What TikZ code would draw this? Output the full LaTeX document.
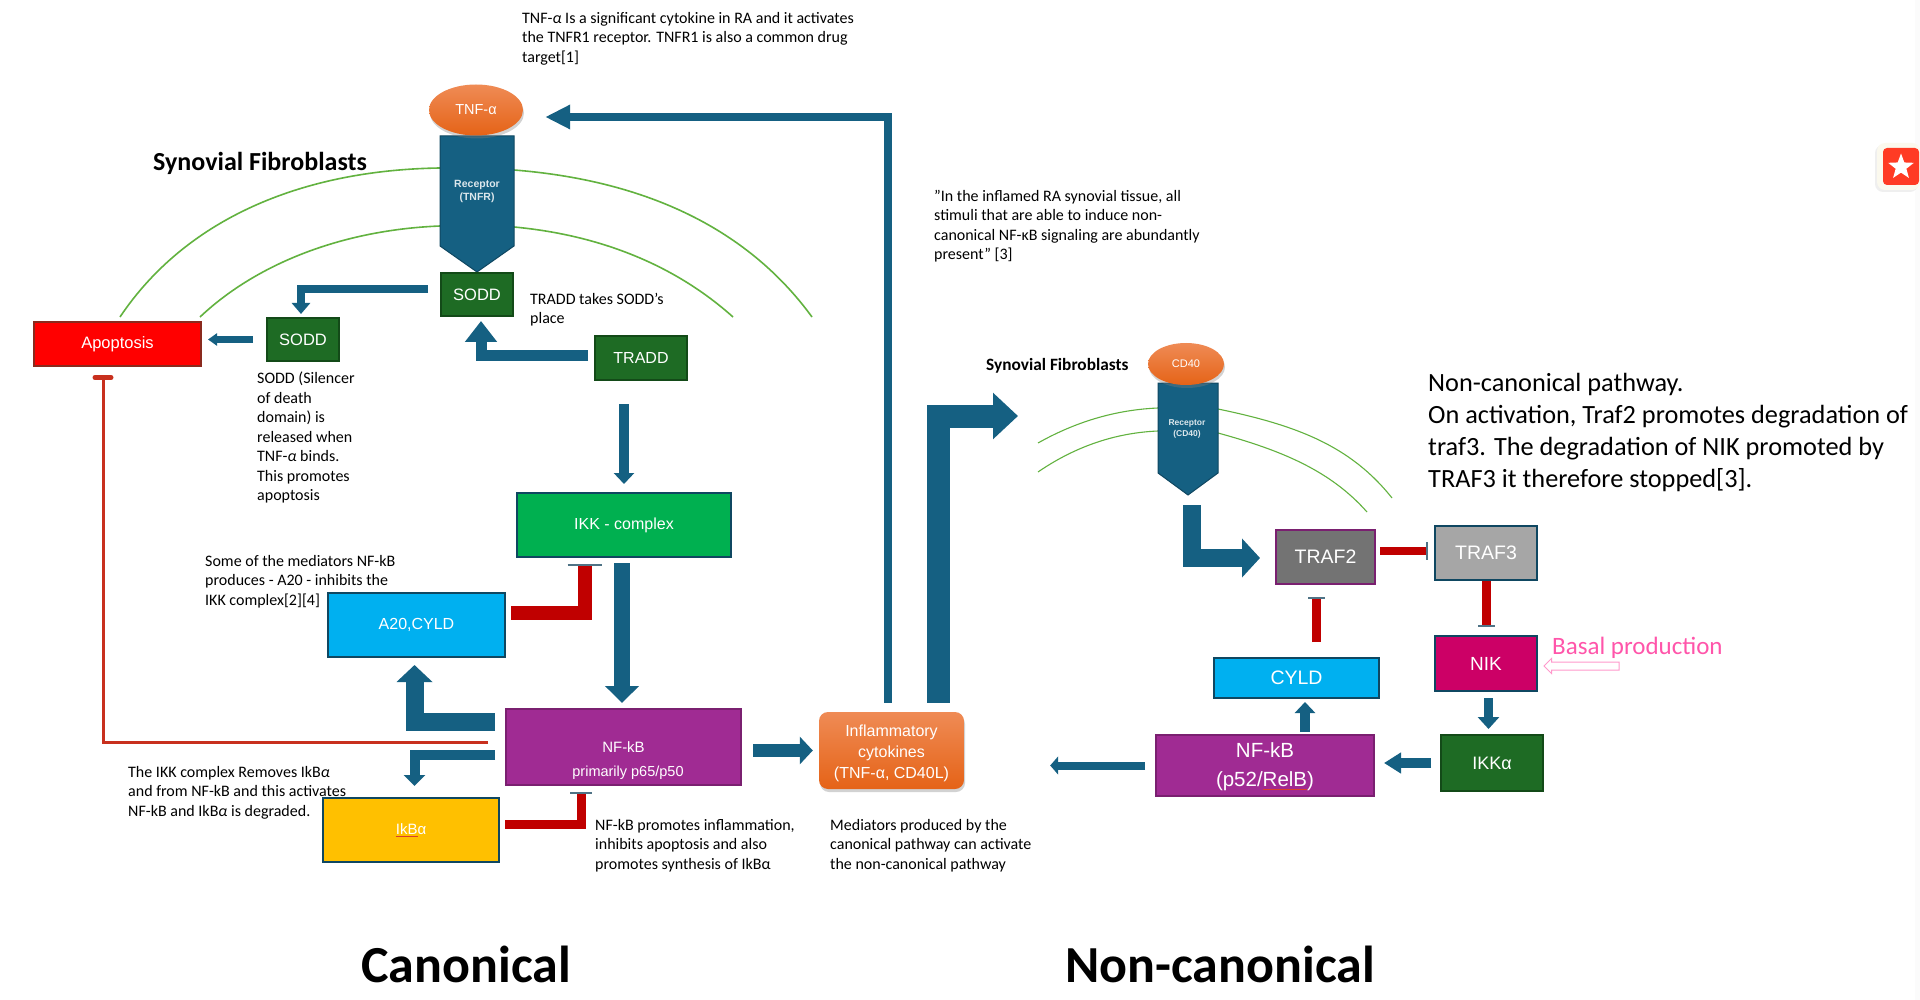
\documentclass[tikz,border=0pt]{standalone}
\usepackage{fontspec}
\setmainfont{Carlito}
\newfontfamily\boxfont{Liberation Sans}
\usetikzlibrary{calc,arrows.meta,shapes.geometric,shapes.arrows,shadows}
\definecolor{flowblue}{HTML}{156082}
\definecolor{flowedge}{HTML}{0F4761}
\definecolor{inhred}{HTML}{C00000}
\definecolor{barslate}{HTML}{4F7386}
\definecolor{stopred}{HTML}{C8301E}
\definecolor{membrane}{HTML}{62B23F}
\definecolor{orangetop}{HTML}{EF8B55}
\definecolor{orangelow}{HTML}{E56317}
\definecolor{darkgreen}{HTML}{1E6B24}
\definecolor{darkgreenedge}{HTML}{134A18}
\definecolor{brightgreen}{HTML}{00B050}
\definecolor{skyblue}{HTML}{00B0F0}
\definecolor{violet}{HTML}{A02B93}
\definecolor{violetedge}{HTML}{7A2070}
\definecolor{amber}{HTML}{FFC000}
\definecolor{alarm}{HTML}{FF0000}
\definecolor{alarmedge}{HTML}{8A2A1E}
\definecolor{midgrey}{HTML}{737373}
\definecolor{lightgrey}{HTML}{A6A6A6}
\definecolor{magenta}{HTML}{CC0066}
\definecolor{pinkline}{HTML}{FF99CC}
\definecolor{pinktext}{HTML}{FF55AA}
\definecolor{badge}{HTML}{FF3B24}
\definecolor{badgeback}{HTML}{FBF9EE}
\definecolor{squig}{HTML}{D9402A}
\definecolor{strip}{HTML}{FBFBFB}
\newcommand{\Note}{\fontsize{16}{19.5}\selectfont}
\newcommand{\Squig}[1]{\leavevmode\sbox0{#1}\rlap{\usebox0}\textcolor{squig}{\rule[-2.5pt]{\wd0}{0.8pt}}}
\tikzset{
  box/.style={anchor=north west, inner sep=0pt, line width=1.6pt, text=white, align=center},
  note/.style={anchor=north west, inner sep=0pt, align=left, text=black, font=\Note},
  label/.style={anchor=center, inner sep=0pt, align=center, text=white},
  flow/.style n args={3}{draw=flowblue, line width=#1pt, -{Triangle[length=#2pt,width=#3pt]}},
  inhibit/.style n args={2}{draw=inhred, line width=#1pt, -{Bar[width=#2pt,line width=2pt,color=barslate]}},
  arc/.style={draw=membrane, line width=1.6pt},
  thinarc/.style={draw=membrane, line width=1.1pt},
  glow/.style={top color=orangetop, bottom color=orangelow, draw=none, drop shadow={shadow xshift=1pt,shadow yshift=-3pt,opacity=.35}}
}
\begin{document}
\begin{tikzpicture}[x=1pt,y=-1pt, font=\boxfont]
  \useasboundingbox (0,0) rectangle (1920,1000);
  \fill[white] (0,0) rectangle (1920,1000);
  \fill[strip] (1915,0) rectangle (1920,1000);
  % membranes
  \draw[arc] (120,317) .. controls (185,220) and (300,170) .. (440,168);
  \draw[arc] (514,170) .. controls (640,180) and (745,225) .. (812,317);
  \draw[arc] (200,317) .. controls (255,265) and (340,230) .. (440,226);
  \draw[arc] (514,227) .. controls (600,235) and (675,265) .. (733,317);
  \draw[thinarc] (1038,443) .. controls (1070,425) and (1110,410) .. (1158,408);
  \draw[thinarc] (1218,409) .. controls (1295,425) and (1350,445) .. (1392,498);
  \draw[thinarc] (1038,472) .. controls (1070,450) and (1110,433) .. (1158,431);
  \draw[thinarc] (1218,433) .. controls (1280,450) and (1330,470) .. (1367,512);
  % receptors
  \foreach \nm/\xa/\xb/\ya/\yb/\yc in {recone/440/514/136/246/272, rectwo/1158/1218/383/473/495}{
    \fill[flowblue,draw=flowedge,line width=1pt] (\xa,\ya) -- (\xb,\ya) -- (\xb,\yb) -- ({(\xa+\xb)/2},\yc) -- (\xa,\yb) -- cycle;
    \coordinate (\nm tip) at ({(\xa+\xb)/2},\yc);}
  \node[label,text=white!85!flowblue,font=\boxfont\bfseries\fontsize{10.5}{13}\selectfont] (recone) at (477,191) {Receptor\\(TNFR)};
  \node[label,text=white!85!flowblue,font=\boxfont\bfseries\fontsize{8.5}{11}\selectfont] (rectwo) at (1187,429) {Receptor\\(CD40)};
  \node[ellipse,glow,minimum width=94pt,minimum height=51pt,inner sep=0pt,text=white,font=\boxfont\fontsize{14.5}{18}\selectfont] (tnf) at (476,110) {TNF-α};
  \node[ellipse,glow,minimum width=76pt,minimum height=42pt,inner sep=0pt,text=white,font=\boxfont\fontsize{11}{14}\selectfont] (cd40) at (1186,364) {CD40};
  % boxes
  \foreach \nm/\x/\y/\w/\h/\c/\e/\s/\tx in {
    apop/33/321/169/46/alarm/alarmedge/16.5/Apoptosis,
    soddl/266/317/74/45/darkgreen/darkgreenedge/16.5/SODD,
    sodd/440/272/74/45/darkgreen/darkgreenedge/16.5/SODD,
    tradd/594/335/94/46/darkgreen/darkgreenedge/16/TRADD,
    ikk/516/492/216/66/brightgreen/flowedge/16/IKK - complex,
    a20/327/592/179/66/skyblue/flowedge/16/{A20,CYLD},
    nfkb/505/708/237/78/violet/violetedge/15/NF-kB,
    ikba/322/797/178/66/amber/flowedge/15/\Squig{IkB}α,
    traf2/1275/529/101/56/midgrey/violetedge/19.5/TRAF2,
    traf3/1434/525/104/56/lightgrey/flowedge/19.5/TRAF3,
    nik/1434/635/104/57/magenta/flowedge/19/NIK,
    cyld/1213/657/167/42/skyblue/flowedge/19.5/CYLD,
    nfkbb/1155/734/220/63/violet/violetedge/20.5/{},
    ikka/1440/734/104/58/darkgreen/darkgreenedge/18/IKKα}{
    \node[box,fill=\c,draw=\e,minimum width=\w pt-1.6pt,minimum height=\h pt-1.6pt,font=\boxfont\fontsize{\s}{21}\selectfont] (\nm) at (\x,\y) {\tx};}
  \node[label,font=\boxfont\fontsize{14.5}{18}\selectfont] (nfkbsub) at (628,773) {primarily p65/p50};
  \node[label,font=\boxfont\fontsize{20.5}{29}\selectfont] (nfkbbtext) at (1265,767) {NF-kB\\(p52/\Squig{RelB})};
  \node[glow,rounded corners=9pt,minimum width=145pt,minimum height=77pt,inner sep=0pt] (infl) at (891.5,750.5) {};
  \node[label,font=\boxfont\fontsize{16}{21}\selectfont] (infltext) at (891.5,753) {Inflammatory\\cytokines\\(TNF-α, CD40L)};
  % connectors
  \coordinate (entry) at (1018,416);
  \draw[flow={7.5}{25}{23}] ($(infl.north)+(-3.5,-9)$) |- ($(tnf.east)+(22,7)$);
  \draw[flow={23}{25}{45}] ($(infl.north)+(46.5,-9)$) |- (entry);
  \draw[flow={8}{11}{18}] ($(sodd.west)+(-12,-5.5)$) -| ($(soddl.north)+(-2,-3)$);
  \draw[flow={7}{9}{12},shorten <=13pt,shorten >=6pt] (soddl.west) -- (soddl.west -| apop.east);
  \draw[flow={11}{21}{31}] ($(tradd.west)+(-6,-2.5)$) -| ($(sodd.south)+(4,4)$);
  \draw[flow={10}{11}{20}] ($(tradd.south -| ikk.north)+(0,23)$) -- ($(ikk.north)+(0,-8)$);
  \draw[flow={16}{17}{33}] ($(ikk.south)+(-2,5)$) -- ($(nfkb.north)+(-1.5,-5)$);
  \draw[flow={18}{17}{35}] ($(nfkb.west)+(-10,-25.5)$) -| ($(a20.south)+(-2,7)$);
  \draw[flow={10}{11}{21}] ($(nfkb.west)+(-10,7.5)$) -| ($(ikba.north)+(3.5,-11)$);
  \draw[flow={13}{13}{27},shorten <=11pt,shorten >=6pt] (nfkb.east |- infl.west) -- (infl.west);
  \draw[inhibit={14}{34}] ($(a20.east)+(5,-12.5)$) -| ($(ikk.south)+(-39.5,6)$);
  \draw[inhibit={9}{22}] ($(ikba.east)+(5,-5.5)$) -| ($(nfkb.south)+(-42.5,6)$);
  \draw[draw=stopred,line width=3pt,-{Bar[width=16pt,line width=5pt,round,color=stopred]}] ($(nfkb.west)+(-17,-4.5)$) -| ($(apop.south)+(-14.5,8)$);
  \draw[flow={18}{18}{38}] ($(rectwotip)+(4,10)$) |- ($(traf2.west)+(-15,1)$);
  \draw[inhibit={8}{18}] ($(traf2.east)+(4,-6)$) -- ($(traf2.east -| traf3.west)+(-6,-6)$);
  \draw[inhibit={9}{17},shorten >=8pt] (traf3.south) -- (nik.north);
  \draw[inhibit={9}{17}] ($(cyld.north)+(20,-15)$) -- ($(traf2.south)+(-9,12)$);
  \draw[flow={10}{11}{20}] ($(nfkbb.north)+(40,-2)$) -- ($(cyld.south)+(8.5,3)$);
  \draw[flow={9}{12}{21}] ($(nik.south)+(2.5,6)$) -- ($(ikka.north)+(-3.5,-5)$);
  \draw[flow={10}{17}{20},shorten <=9pt,shorten >=9pt] (ikka.west) -- (ikka.west -| nfkbb.east);
  \draw[flow={8}{8}{18},shorten <=10pt,shorten >=86pt] (nfkbb.west) -- (nfkbb.west -| infl.east);
  \node[single arrow,shape border rotate=180,draw=pinkline,fill=white,line width=1pt,minimum height=75pt,single arrow head extend=3.5pt,inner xsep=0pt,inner ysep=3.5pt] (basalarrow) at (1583.5,666) {};
  % notes
  \node[note] (notetnf) at (522,12) {TNF-\textit{α} Is a significant cytokine in RA and it activates\\the TNFR1 receptor. TNFR1 is also a common drug\\target[1]};
  \node[note] (noterich) at (934,190) {"In the inflamed RA synovial tissue, all\\stimuli that are able to induce non-\\canonical NF-κB signaling are abundantly\\present" [3]};
  \node[note] (notetradd) at (530,293) {TRADD takes SODD's\\place};
  \node[note] (notesodd) at (257,372) {SODD (Silencer\\of death\\domain) is\\released when\\TNF-\textit{α} binds.\\This promotes\\apoptosis};
  \node[note] (notemed) at (205,555) {Some of the mediators NF-kB\\produces - A20 - inhibits the\\IKK complex[2][4]};
  \node[note] (noteikk) at (128,766) {The IKK complex Removes IkB\textit{α}\\and from NF-kB and this activates\\NF-kB and IkB\textit{α} is degraded.};
  \node[note] (notenfkb) at (595,819) {NF-kB promotes inflammation,\\inhibits apoptosis and also\\promotes synthesis of IkBα};
  \node[note] (notecan) at (830,819) {Mediators produced by the\\canonical pathway can activate\\the non-canonical pathway};
  \node[note,font=\fontsize{26.3}{32}\selectfont] (notenon) at (1428,373) {Non-canonical pathway.\\On activation, Traf2 promotes degradation of\\traf3. The degradation of NIK promoted by\\TRAF3 it therefore stopped[3].};
  % titles
  \node[anchor=west,inner sep=0pt,text=black,font=\fontsize{26}{30}\selectfont\bfseries] (synone) at (153,163) {Synovial Fibroblasts};
  \node[anchor=west,inner sep=0pt,text=black,font=\fontsize{17.3}{20}\selectfont\bfseries] (syntwo) at (986,366) {Synovial Fibroblasts};
  \node[anchor=west,inner sep=0pt,text=pinktext,font=\fontsize{25}{28}\selectfont] (basal) at (1552,648) {Basal production};
  \node[anchor=west,inner sep=0pt,text=black,font=\fontsize{52}{58}\selectfont\bfseries] (canon) at (361,964) {Canonical};
  \node[anchor=west,inner sep=0pt,text=black,font=\fontsize{52}{58}\selectfont\bfseries] (noncanon) at (1065,964) {Non-canonical};
  % badge
  \fill[badgeback,rounded corners=8pt,drop shadow={shadow xshift=-2pt,shadow yshift=-2pt,opacity=.12}] (1920,143) -- (1877,143) -- (1877,190) -- (1920,190) -- cycle;
  \fill[badge,rounded corners=4pt] (1919,148) -- (1883,148) -- (1883,185) -- (1919,185) -- cycle;
  \node[star,star points=5,star point ratio=2.4,fill=white,draw=none,minimum size=27pt,inner sep=0pt] (badgestar) at (1901,167) {};
\end{tikzpicture}
\end{document}
